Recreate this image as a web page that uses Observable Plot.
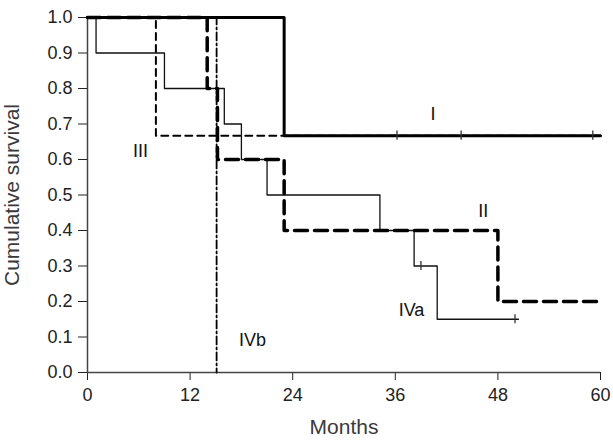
<!DOCTYPE html>
<html>
<head>
<meta charset="utf-8">
<script src="https://cdn.jsdelivr.net/npm/d3@7"></script>
<script src="https://cdn.jsdelivr.net/npm/@observablehq/plot@0.6"></script>
<style>
  body { margin: 0; background: #fff; }
  svg { display: block; }
  g[aria-label="x-axis label"] text, g[aria-label="y-axis label"] text { font-size: 21px; fill: #3a3a3a; }
</style>
</head>
<body>
<div id="chart"></div>
<script>
// Kaplan-Meier step curves (time in months, cumulative survival)
const stageI_t   = [0, 23, 60];
const stageI_s   = [1, 0.667, 0.667];
const stageII_t  = [0, 14, 15.2, 23, 48, 60];
const stageII_s  = [1, 0.8, 0.6, 0.4, 0.2, 0.2];
const stageIII_t = [0, 8, 60];
const stageIII_s = [1, 0.667, 0.667];
const stageIVa_t = [0, 1, 9, 16, 18, 21, 34.2, 38.2, 40.9, 50.4];
const stageIVa_s = [1, 0.9, 0.8, 0.7, 0.6, 0.5, 0.4, 0.3, 0.15, 0.15];
const stageIVb_t = [0, 15.1];
const stageIVb_s = [1, 0];

// censored observations
const censI_t   = [36.2, 43.7, 59.1];
const censI_s   = [0.667, 0.667, 0.667];
const censIVa_t = [39, 50];
const censIVa_s = [0.3, 0.15];

// curve labels
const labelText = ["I", "II", "III", "IVa", "IVb"];
const labelX    = [40.4, 46.3, 6.2, 37.9, 19.3];
const labelY    = [0.727, 0.453, 0.623, 0.175, 0.09];

const xTicks = [0, 12, 24, 36, 48, 60];
const yTicks = [0, 0.1, 0.2, 0.3, 0.4, 0.5, 0.6, 0.7, 0.8, 0.9, 1.0];

const pts = (t, s) => t.map((d, i) => ({t: d, s: s[i]}));
const I = pts(stageI_t, stageI_s);
const II = pts(stageII_t, stageII_s);
const III = pts(stageIII_t, stageIII_s);
const IVa = pts(stageIVa_t, stageIVa_s);
const IVb = pts(stageIVb_t, stageIVb_s);
const cens = pts(censI_t, censI_s).concat(pts(censIVa_t, censIVa_s));
const labels = labelText.map((d, i) => ({text: d, t: labelX[i], s: labelY[i]}));

const ink = "#000";
const plot = Plot.plot({
  width: 613,
  height: 441,
  marginLeft: 87,
  marginRight: 13,
  marginTop: 17,
  marginBottom: 69,
  style: {fontFamily: "'Liberation Sans', Arial, sans-serif", fontSize: "18px", color: "#222", background: "#fff"},
  x: {domain: [0, 60], ticks: xTicks, tickSize: 8, tickPadding: 8, label: "Months", labelArrow: "none", labelAnchor: "center", labelOffset: 61, tickFormat: d3.format("d")},
  y: {domain: [0, 1], ticks: yTicks, tickSize: 9, tickPadding: 6, tickFormat: d3.format(".1f"), label: "Cumulative survival", labelArrow: "none", labelAnchor: "center", labelOffset: 83},
  marks: [
    Plot.ruleX([0], {stroke: "#444", strokeWidth: 1.5}),
    Plot.ruleY([0], {stroke: "#444", strokeWidth: 1.5}),
    Plot.line(IVb, {x: "t", y: "s", curve: "step-after", stroke: ink, strokeWidth: 1.8, strokeDasharray: "8,3,2,3"}),
    Plot.line(III, {x: "t", y: "s", curve: "step-after", stroke: ink, strokeWidth: 2, strokeDasharray: "7,5"}),
    Plot.line(IVa, {x: "t", y: "s", curve: "step-after", stroke: "#111", strokeWidth: 1.3}),
    Plot.line(II, {x: "t", y: "s", curve: "step-after", stroke: ink, strokeWidth: 3.5, strokeDasharray: "13,7"}),
    Plot.line(I, {x: "t", y: "s", curve: "step-after", stroke: ink, strokeWidth: 3}),
    Plot.ruleX(cens, {x: "t", y1: d => d.s - 0.013, y2: d => d.s + 0.013, stroke: "#333", strokeWidth: 1.3}),
    Plot.text(labels, {x: "t", y: "s", text: "text", fontSize: 18, fill: "#111"})
  ]
});
document.getElementById("chart").appendChild(plot);
</script>
</body>
</html>
